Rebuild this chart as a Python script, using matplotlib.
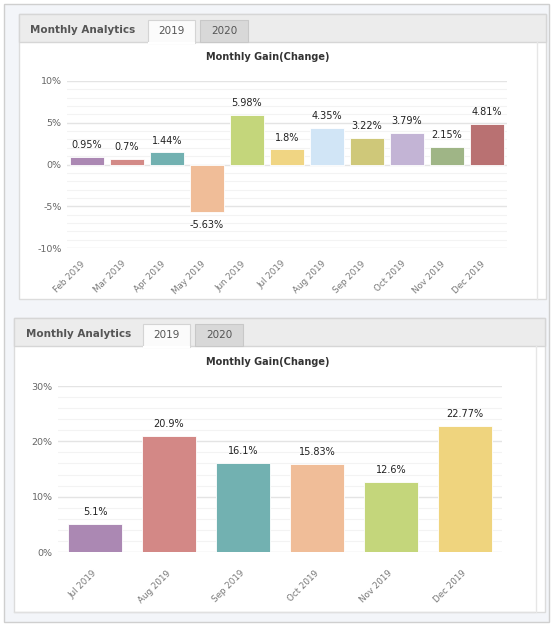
import matplotlib
matplotlib.use("Agg")
import matplotlib.pyplot as plt
from matplotlib.patches import Rectangle
from matplotlib.lines import Line2D
from matplotlib.ticker import MultipleLocator, FuncFormatter
from matplotlib.transforms import ScaledTranslation

W, H = 552, 625

# data
months_top = ["Feb 2019", "Mar 2019", "Apr 2019", "May 2019", "Jun 2019", "Jul 2019",
              "Aug 2019", "Sep 2019", "Oct 2019", "Nov 2019", "Dec 2019"]
gain_top = [0.95, 0.7, 1.44, -5.63, 5.98, 1.8, 4.35, 3.22, 3.79, 2.15, 4.81]
colors_top = ["#ab88b3", "#d38a87", "#72b1b1", "#f0bd98", "#c4d67b", "#f0d583",
              "#d1e5f6", "#cfc879", "#c3b4d5", "#9fb586", "#b97172"]

months_bot = ["Jul 2019", "Aug 2019", "Sep 2019", "Oct 2019", "Nov 2019", "Dec 2019"]
gain_bot = [5.1, 20.9, 16.1, 15.83, 12.6, 22.77]
colors_bot = ["#ab88b3", "#d38886", "#72b1b1", "#f0bd98", "#c4d67b", "#efd47e"]

fig = plt.figure(figsize=(W / 100, H / 100), dpi=100, facecolor="white")


def box(x0, y0, x1, y1, fc, ec="none", lw=1.0, z=0):
    r = Rectangle((x0 / W, 1 - y1 / H), (x1 - x0) / W, (y1 - y0) / H,
                  transform=fig.transFigure, facecolor=fc, edgecolor=ec, lw=lw, zorder=z)
    fig.add_artist(r)


def line(x0, y0, x1, y1, c="#e2e2e2", lw=1.0, z=1):
    fig.add_artist(Line2D([x0 / W, x1 / W], [1 - y0 / H, 1 - y1 / H],
                          transform=fig.transFigure, color=c, lw=lw, zorder=z))


def txt(x, y, s, **kw):
    fig.text(x / W, 1 - y / H, s, **kw)


# page background
box(4, 4, 549, 622, "#f3f5f9", ec="#cfcfcf", z=0)


def panel(x0, y0, x1, y1, title_x, tab_x):
    box(x0, y0, x1, y1, "white", ec="#dcdcdc", z=0.5)
    box(x0, y0, x1, y0 + 28, "#ececec", ec="#d6d6d6", z=0.6)
    line(x1 - 9, y0 + 28, x1 - 9, y1, c="#e6e6e6")
    # tabs
    box(tab_x, y0 + 6, tab_x + 47, y0 + 29, "#fbfbfb", ec="#d4d4d4", lw=0.8, z=0.7)
    line(tab_x + 0.6, y0 + 28.5, tab_x + 46.4, y0 + 28.5, c="white", lw=1.5, z=0.8)
    box(tab_x + 52, y0 + 6, tab_x + 100, y0 + 28, "#d8d8d8", ec="#c8c8c8", lw=0.8, z=0.7)
    txt(title_x, y0 + 16, "Monthly Analytics", fontsize=7.5, fontweight="bold",
        color="#555555", va="center", ha="left")
    txt(tab_x + 23.5, y0 + 17, "2019", fontsize=7.5, color="#555555", va="center", ha="center")
    txt(tab_x + 76, y0 + 17, "2020", fontsize=7.5, color="#555555", va="center", ha="center")


panel(19, 14, 546, 299, 30, 148)
panel(14, 318, 545, 612, 26, 143)
line(14, 612, 534, 612, c="#e0e0e0")


def chart(rect_px, months, vals, cols, ylim, major, minor, width, title_y, label_pad, shift):
    x0, y0, x1, y1 = rect_px
    ax = fig.add_axes([x0 / W, 1 - y1 / H, (x1 - x0) / W, (y1 - y0) / H])
    ax.set_zorder(2)
    ax.set_facecolor("none")
    xs = list(range(len(vals)))
    ax.bar(xs, vals, width=width, color=cols, edgecolor="#ffffff", linewidth=0.6, zorder=3)
    ax.set_xlim(-0.5, len(vals) - 0.5)
    ax.set_ylim(*ylim)
    ax.yaxis.set_major_locator(MultipleLocator(major))
    ax.yaxis.set_minor_locator(MultipleLocator(minor))
    ax.yaxis.set_major_formatter(FuncFormatter(lambda v, p: f"{v:.0f}%"))
    ax.grid(axis="y", which="major", color="#e4e4e4", lw=1.0, zorder=0)
    ax.grid(axis="y", which="minor", color="#f3f3f3", lw=0.8, zorder=0)
    for s in ax.spines.values():
        s.set_visible(False)
    ax.tick_params(axis="y", which="both", length=0, labelsize=6.8, labelcolor="#666666", pad=4)
    ax.tick_params(axis="x", length=0, pad=label_pad)
    ax.set_xticks(xs)
    ax.set_xticklabels(months, rotation=45, ha="right", rotation_mode="anchor",
                       fontsize=6.3, color="#777777")
    off = ScaledTranslation(shift / 100, 0, fig.dpi_scale_trans)
    for lab in ax.get_xticklabels():
        lab.set_transform(lab.get_transform() + off)
    for x, v in zip(xs, vals):
        dy = 5 if v >= 0 else -6
        ax.annotate(f"{v:g}%", (x, v), xytext=(0, dy), textcoords="offset points",
                    ha="center", va="bottom" if v >= 0 else "top",
                    fontsize=7, color="#222222", zorder=4)
    txt(268, title_y, "Monthly Gain(Change)", fontsize=7, fontweight="bold",
        color="#333333", ha="center", va="center")
    return ax


chart((67, 81, 507, 248), months_top, gain_top, colors_top, (-10, 10), 5, 1, 0.85, 57, 8, -6)
chart((58, 386, 502, 552), months_bot, gain_bot, colors_bot, (0, 30), 10, 2, 0.74, 362, 12, -3)

fig.savefig("out.png", dpi=100, facecolor=fig.get_facecolor())
